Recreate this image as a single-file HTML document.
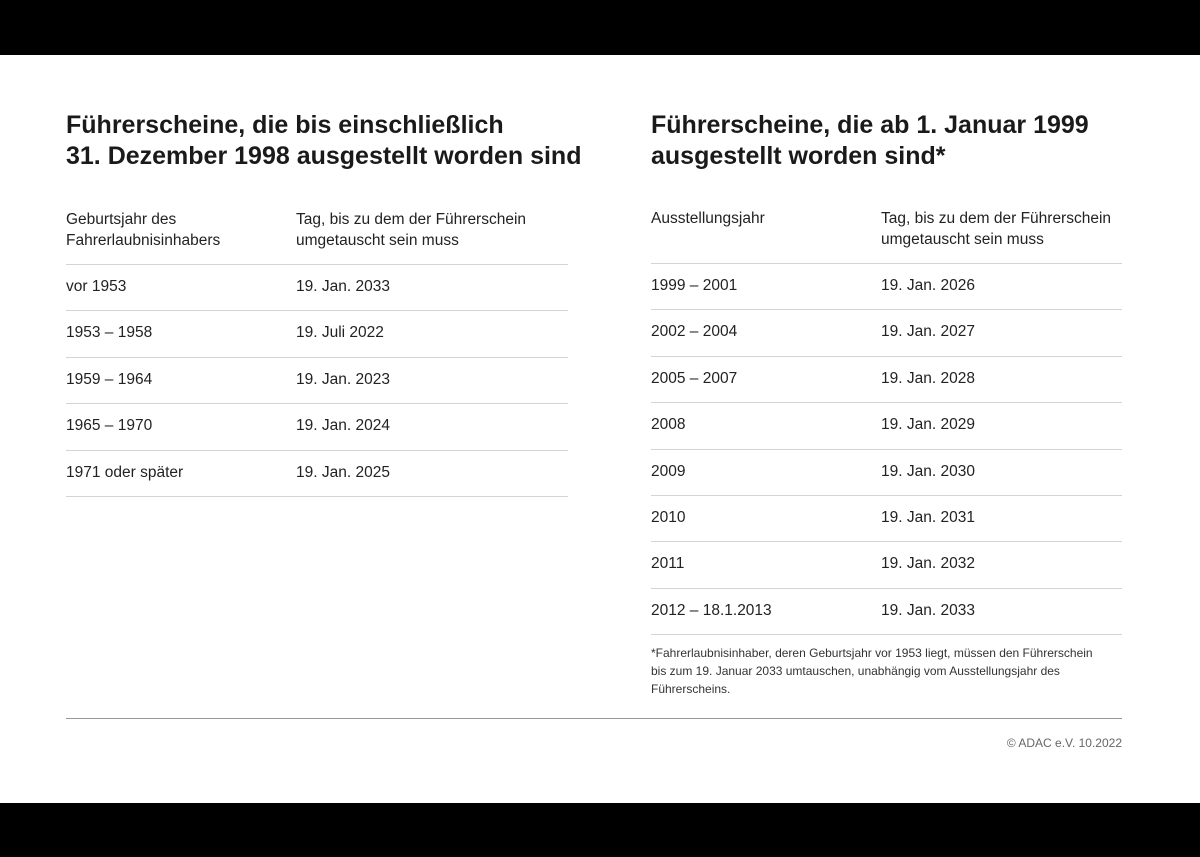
<!DOCTYPE html>
<html><head><meta charset="utf-8">
<style>
*{margin:0;padding:0;box-sizing:border-box}
body{width:1200px;height:857px;background:#fff;position:relative;overflow:hidden;font-family:"Liberation Sans",sans-serif;color:#1a1a1a}
.bar{position:absolute;left:0;width:1200px;background:#000}
.t{position:absolute;white-space:nowrap}
.title{font-size:25px;font-weight:bold;line-height:31px}
.hd,.c{font-size:15.5px;line-height:21px;color:#222}
.ln{position:absolute;height:1px;background:#d4d4d4}
.fn{font-size:12px;line-height:18px;color:#333}
</style></head><body>
<div class="bar" style="top:0;height:55px"></div>
<div class="bar" style="top:803px;height:54px"></div>

<div class="t title" style="left:66px;top:110px">Führerscheine, die bis einschließlich<br>31. Dezember 1998 ausgestellt worden sind</div>
<div class="t title" style="left:651px;top:110px">Führerscheine, die ab 1. Januar 1999<br>ausgestellt worden sind*</div>

<div class="t hd" style="left:66px;top:209px">Geburtsjahr des<br>Fahrerlaubnisinhabers</div>
<div class="t hd" style="left:296px;top:209px">Tag, bis zu dem der Führerschein<br>umgetauscht sein muss</div>
<div class="t hd" style="left:651px;top:208px">Ausstellungsjahr</div>
<div class="t hd" style="left:881px;top:208px">Tag, bis zu dem der Führerschein<br>umgetauscht sein muss</div>

<div id="left"></div><div id="right"></div>

<div class="t fn" style="left:651px;top:644px">*Fahrerlaubnisinhaber, deren Geburtsjahr vor 1953 liegt, müssen den Führerschein<br>bis zum 19. Januar 2033 umtauschen, unabhängig vom Ausstellungsjahr des<br>Führerscheins.</div>
<div class="ln" style="left:66px;top:718px;width:1056px;background:#999"></div>
<div class="t fn" style="right:78px;top:734px;color:#666">© ADAC e.V. 10.2022</div>

<script>
const leftRows=[["vor 1953","19. Jan. 2033"],["1953 – 1958","19. Juli 2022"],["1959 – 1964","19. Jan. 2023"],["1965 – 1970","19. Jan. 2024"],["1971 oder später","19. Jan. 2025"]];
const rightRows=[["1999 – 2001","19. Jan. 2026"],["2002 – 2004","19. Jan. 2027"],["2005 – 2007","19. Jan. 2028"],["2008","19. Jan. 2029"],["2009","19. Jan. 2030"],["2010","19. Jan. 2031"],["2011","19. Jan. 2032"],["2012 – 18.1.2013","19. Jan. 2033"]];
function build(rows,x1,x2,w,top,side){
  const step=46.4;
  function line(y){const l=document.createElement('div');l.className='ln';
    
    
    l.style.left=x1+'px';l.style.top=y+'px';l.style.width=w+'px';document.body.appendChild(l);}
  line(top);
  rows.forEach((r,i)=>{
    const y=top+i*step;
    [[r[0],x1,'-label'],[r[1],x2,'-date']].forEach(([txt,x,s])=>{
      const d=document.createElement('div');d.className='t c';d.textContent=txt;
      
      
      d.style.left=x+'px';d.style.top=(y+12)+'px';document.body.appendChild(d);
    });
    line(Math.round(y+step));
  });
}
build(leftRows,66,296,502,264,'left');
build(rightRows,651,881,471,263,'right');
</script>
</body></html>
